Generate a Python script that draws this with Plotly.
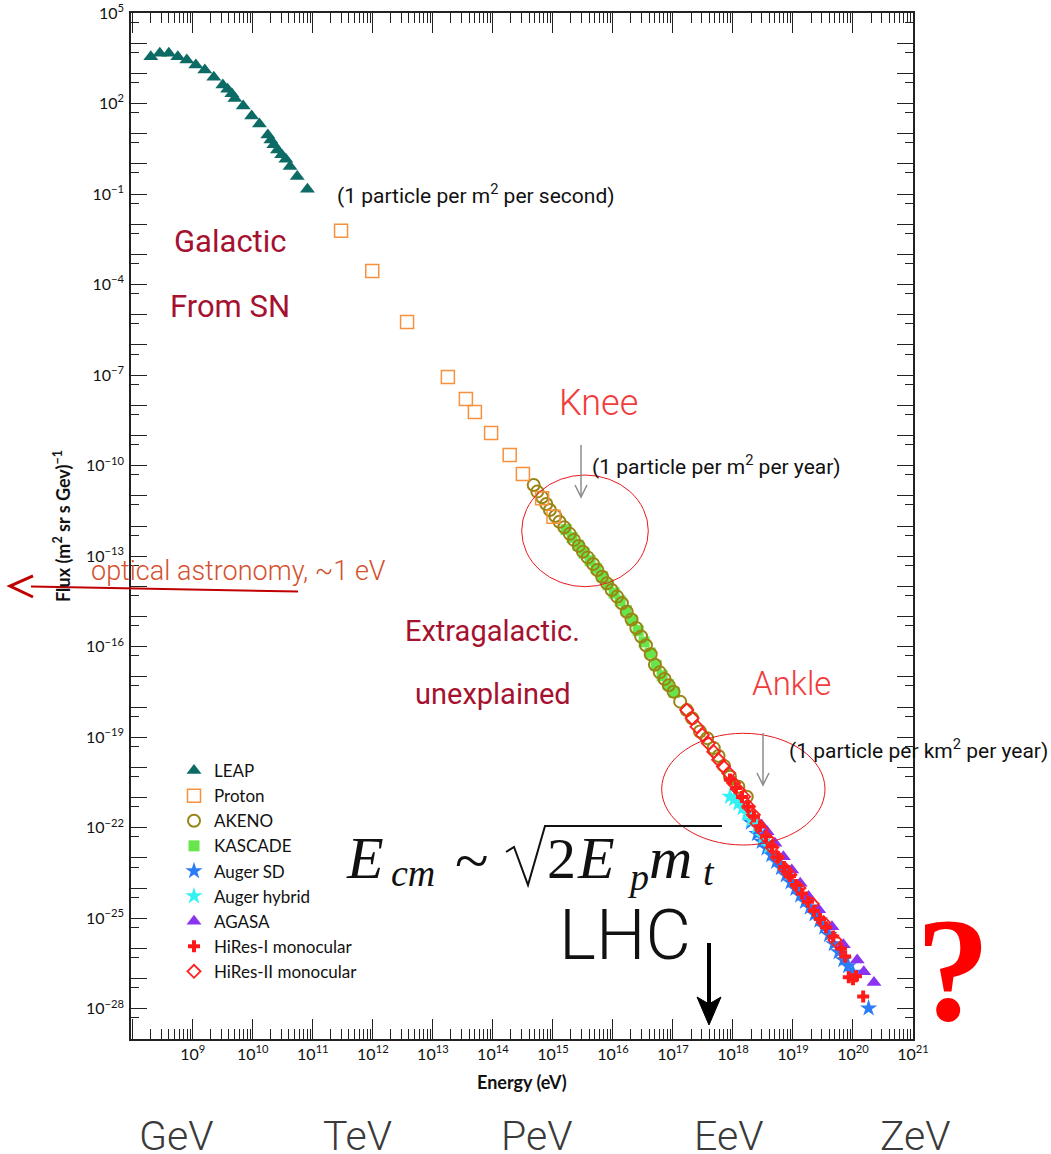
import plotly.graph_objects as go

# ---------------- data: log10(E / eV), log10(flux / (m^2 sr s GeV)^-1) ----------------
leap_log_e = [8.30, 8.45, 8.60, 8.75, 8.90, 9.05, 9.20, 9.35, 9.50, 9.58, 9.65, 9.70,
              9.84, 9.98, 10.11, 10.25, 10.30, 10.35, 10.41, 10.48, 10.55, 10.62, 10.74, 10.91]
leap_log_f = [3.55, 3.67, 3.67, 3.55, 3.44, 3.28, 3.11, 2.87, 2.61, 2.47, 2.32, 2.17,
              1.92, 1.59, 1.32, 0.96, 0.79, 0.63, 0.46, 0.30, 0.15, -0.09, -0.42, -0.84]

proton_log_e = [11.47, 11.99, 12.57, 13.25, 13.55, 13.70, 13.97, 14.28, 14.50, 14.82, 15.01]
proton_log_f = [-2.22, -3.55, -5.24, -7.06, -7.79, -8.22, -8.92, -9.65, -10.28, -11.08, -11.69]

akeno_log_e = [14.68, 14.74, 14.82, 14.89, 14.95, 15.04, 15.11, 15.19, 15.28, 15.35,
               15.43, 15.50, 15.58, 15.67, 15.74, 15.82, 15.90, 15.98, 16.07, 16.15,
               16.23, 16.31, 16.39, 16.47, 16.55, 16.63, 16.70, 16.78, 16.86, 16.93,
               17.01, 17.12, 17.23, 17.32, 17.45, 17.57, 17.68, 17.76, 17.85, 17.95,
               18.09, 18.23]
akeno_log_f = [-10.64, -10.86, -11.05, -11.27, -11.47, -11.67, -11.86, -12.04, -12.26, -12.46,
               -12.66, -12.85, -13.04, -13.26, -13.46, -13.68, -13.90, -14.12, -14.34, -14.56,
               -14.84, -15.10, -15.38, -15.66, -15.95, -16.25, -16.60, -16.85, -17.07, -17.28,
               -17.49, -17.82, -18.10, -18.37, -18.81, -19.03, -19.36, -19.62, -19.95, -20.31,
               -20.64, -20.97]

kascade_log_e = [15.22, 15.32, 15.42, 15.52, 15.62, 15.72, 15.82, 15.92, 16.02, 16.12,
                 16.22, 16.32, 16.42, 16.52, 16.62, 16.72, 16.82, 16.92, 17.02]
kascade_log_f = [-12.12, -12.38, -12.64, -12.90, -13.15, -13.40, -13.68, -13.95, -14.22, -14.48,
                 -14.80, -15.13, -15.47, -15.84, -16.21, -16.62, -16.96, -17.25, -17.52]

auger_sd_log_e = [18.30, 18.40, 18.48, 18.56, 18.64, 18.72, 18.80, 18.88, 18.96, 19.04, 19.12,
                  19.20, 19.28, 19.36, 19.44, 19.52, 19.60, 19.68, 19.76, 19.84, 19.92,
                  20.00, 20.26]
auger_sd_log_f = [-21.82, -22.20, -22.46, -22.68, -22.90, -23.12, -23.33, -23.57, -23.80, -24.02,
                  -24.24, -24.45, -24.64, -24.86, -25.07, -25.30, -25.55, -25.85, -26.12, -26.38,
                  -26.58, -26.80, -27.98]

auger_hyb_log_e = [17.95, 18.02, 18.09, 18.16, 18.23, 18.30, 18.40, 18.50, 18.60]
auger_hyb_log_f = [-20.97, -21.05, -21.19, -21.35, -21.52, -21.75, -21.96, -22.30, -22.62]

agasa_log_e = [18.48, 18.57, 18.70, 18.84, 18.98, 19.12, 19.26, 19.43, 19.65, 19.84,
               20.07, 20.18, 20.35]
agasa_log_f = [-21.92, -22.13, -22.51, -22.96, -23.40, -23.84, -24.28, -24.72, -25.28, -25.88,
               -26.38, -26.77, -27.13]

hires1_log_e = [17.95, 18.05, 18.15, 18.25, 18.35, 18.45, 18.55, 18.65, 18.75, 18.85, 18.95,
                19.05, 19.15, 19.25, 19.35, 19.45, 19.55, 19.67, 19.80, 19.87, 19.93, 20.00,
                20.05, 20.17]
hires1_log_f = [-20.40, -20.68, -20.98, -21.30, -21.62, -21.95, -22.28, -22.62, -22.98, -23.30,
                -23.60, -23.90, -24.18, -24.45, -24.75, -25.02, -25.30, -25.60, -26.00, -26.27,
                -26.95, -27.02, -26.92, -27.59]

hires2_log_e = [17.23, 17.32, 17.40, 17.49, 17.59, 17.68, 17.76, 17.84, 17.93, 18.01, 18.09,
                18.18, 18.26, 18.34, 18.40, 18.48, 18.57, 18.65, 18.74, 18.87, 18.95, 19.10,
                19.32, 19.51, 19.70]
hires2_log_f = [-18.10, -18.37, -18.65, -18.92, -19.20, -19.48, -19.75, -19.97, -20.19, -20.52,
                -20.75, -20.97, -21.30, -21.57, -21.85, -22.07, -22.35, -22.65, -22.98, -23.37,
                -23.56, -24.00, -24.52, -25.14, -25.72]

x_major_exp = list(range(8, 22))
y_major_exp = list(range(-29, 6))
unit_labels = ["GeV", "TeV", "PeV", "EeV", "ZeV"]

# ---------------- figure geometry (pixels) ----------------
W, H = 1051, 1154
L, R, T, B = 131, 913, 13, 1039


def px(x):
    return (x - L) / (R - L)


def py(y):
    return (B - y) / (B - T)


def path(points, close=False):
    s = "M " + " L ".join(f"{px(a):.5f},{py(b):.5f}" for a, b in points)
    return s + (" Z" if close else "")


def pw(vals):
    return [10 ** v for v in vals]


fig = go.Figure()

series = [
    # name, log E, log F, symbol, color, size, line width, legend rank
    ("KASCADE", kascade_log_e, kascade_log_f, "square", "#66e64a", 11, 0, 4),
    ("AKENO", akeno_log_e, akeno_log_f, "circle-open", "#9a8514", 12, 2, 3),
    ("LEAP", leap_log_e, leap_log_f, "triangle-up", "#0d6b66", 13, 0, 1),
    ("Proton", proton_log_e, proton_log_f, "square-open", "#f7913d", 13, 1.5, 2),
    ("Auger SD", auger_sd_log_e, auger_sd_log_f, "star", "#2a7cf7", 13, 0, 5),
    ("Auger hybrid", auger_hyb_log_e, auger_hyb_log_f, "star", "#33f2f2", 13, 0, 6),
    ("AGASA", agasa_log_e, agasa_log_f, "triangle-up", "#8a33f0", 13, 0, 7),
    ("HiRes-I monocular", hires1_log_e, hires1_log_f, "cross", "#ff1a1a", 10, 0, 8),
    ("HiRes-II monocular", hires2_log_e, hires2_log_f, "diamond-open", "#ff2020", 10, 1.8, 9),
]

for name, le, lf, sym, col, size, lw, rank in series:
    marker = dict(symbol=sym, color=col, size=size)
    if lw:
        marker["line"] = dict(color=col, width=lw)
    fig.add_trace(go.Scatter(x=pw(le), y=pw(lf), mode="markers", name=name,
                             marker=marker, legendrank=rank, cliponaxis=False))

sans = "Lato, Liberation Sans, sans-serif"
tick_font = dict(family=sans, size=16, color="#111")

x_ticktext = ["" if n == 8 else f"10<sup>{n}</sup>" for n in x_major_exp]
y_ticktext = [f"10<sup>{str(n).replace('-', '−')}</sup>" if (5 - n) % 3 == 0 else ""
              for n in y_major_exp]

fig.update_xaxes(
    type="log", range=[7.97, 21.0], showgrid=False, zeroline=False, automargin=False,
    showline=True, linecolor="#222", linewidth=1.5, mirror="allticks",
    ticks="inside", ticklen=20, tickwidth=1, tickcolor="#222",
    tickmode="array", tickvals=[10.0 ** n for n in x_major_exp], ticktext=x_ticktext,
    tickfont=tick_font,
    minor=dict(ticks="inside", ticklen=10, tickwidth=1, tickcolor="#222",
               tickmode="array",
               tickvals=[k * 10.0 ** n for n in range(7, 21) for k in range(2, 10)]),
)
fig.update_yaxes(
    type="log", range=[-29, 5], showgrid=False, zeroline=False, automargin=False,
    showline=True, linecolor="#222", linewidth=1.5, mirror="allticks",
    ticks="inside", ticklen=16, tickwidth=1, tickcolor="#222",
    tickmode="array", tickvals=[10.0 ** n for n in y_major_exp], ticktext=y_ticktext,
    tickfont=tick_font, ticklabelstandoff=2,
    minor=dict(ticks="inside", ticklen=8, tickwidth=1, tickcolor="#222",
               tickmode="array",
               tickvals=[0.5 * 10.0 ** n for n in range(-28, 6)]),
)

ann = []


def text(x, y, s, size, color, family="Liberation Sans, sans-serif", anchor="center",
         weight="normal", angle=0):
    ann.append(dict(x=px(x), y=py(y), xref="paper", yref="paper", text=s, showarrow=False,
                    xanchor=anchor, yanchor="middle", textangle=angle, borderpad=0,
                    font=dict(family=family, size=size, color=color, weight=weight)))


light = "Roboto, Liberation Sans, sans-serif"
dark_red = "#a5112f"

text(336, 194, "(1 particle per m<sup>2</sup> per second)", 21, "#111", light, "left")
text(230, 241, "Galactic", 31, dark_red, light)
text(230, 306, "From SN", 31, dark_red, light)
text(598, 403, "Knee", 36, "#f03c3c", light, weight=300)
text(591, 465, "(1 particle per m<sup>2</sup> per year)", 21, "#111", light, "left")
text(90, 571, "optical astronomy, ~1 eV", 27, "#d4502e", light, "left", weight=300)
text(492, 631, "Extragalactic.", 29, dark_red, light)
text(493, 694, "unexplained", 29, dark_red, light)
text(791, 684, "Ankle", 33, "#f03c3c", light, weight=300)
text(788, 749, "(1 particle per km<sup>2</sup> per year)", 21, "#111", light, "left")
text(625, 935, "LHC", 70, "#111", light, weight=300)
text(953, 970, "?", 148, "#ff0000", "Liberation Serif, serif", weight="bold")

# E_cm ~ sqrt(2 E_p m_t), set piece by piece
serif = "Liberation Serif, DejaVu Serif, serif"
text(345, 858, "<i>E</i>", 60, "#111", serif, "left")
text(390, 873, "<i>cm</i>", 38, "#111", serif, "left")
text(454, 860, "~", 62, "#111", serif, "left")
text(546, 858, "2", 58, "#111", serif, "left")
text(576, 858, "<i>E</i>", 60, "#111", serif, "left")
text(626, 877, "<i>p</i>", 38, "#111", serif, "left")
text(648, 858, "<i>m</i>", 60, "#111", serif, "left")
text(702, 872, "<i>t</i>", 38, "#111", serif, "left")

# axis titles
text(522, 1082, "Energy (eV)", 18, "#111", sans, weight="bold")
text(62, 526, "Flux (m<sup>2</sup> sr s Gev)<sup>−1</sup>", 18, "#111", sans,
     weight="bold", angle=-90)

# unit names under the energy axis
for lab, xc in zip(unit_labels, [176, 357, 537, 728, 915]):
    text(xc, 1136, lab, 41, "#3a3a3a", light, weight=300)

shapes = []
# knee and ankle ellipses
shapes.append(dict(type="circle", xref="paper", yref="paper", x0=px(521.7), x1=px(648.3),
                   y0=py(586.7), y1=py(475), line=dict(color="#e8191e", width=1)))
shapes.append(dict(type="circle", xref="paper", yref="paper", x0=px(661.7), x1=px(825),
                   y0=py(845), y1=py(733.3), line=dict(color="#e8191e", width=1)))

# grey pointer arrows
for xa, ya, yb in [(581, 445, 497), (763, 733, 785)]:
    shapes.append(dict(type="path", xref="paper", yref="paper",
                       path=path([(xa, ya), (xa, yb)]), line=dict(color="#8c8c8c", width=1.5)))
    shapes.append(dict(type="path", xref="paper", yref="paper",
                       path=path([(xa - 6, yb - 12), (xa, yb), (xa + 6, yb - 12)]),
                       line=dict(color="#8c8c8c", width=1.5)))

# optical-astronomy arrow pointing off the left edge
shapes.append(dict(type="path", xref="paper", yref="paper",
                   path=path([(298, 591.5), (31, 586.5)]), line=dict(color="#c00000", width=2)))
shapes.append(dict(type="path", xref="paper", yref="paper",
                   path=path([(33, 576), (10, 586), (33, 597)]),
                   line=dict(color="#c00000", width=3)))

# LHC arrow
shapes.append(dict(type="path", xref="paper", yref="paper",
                   path=path([(709, 943), (709, 1004)]), line=dict(color="#000", width=4)))
shapes.append(dict(type="path", xref="paper", yref="paper",
                   path=path([(709, 1025), (697, 997), (709, 1004), (721, 997)], close=True),
                   fillcolor="#000", line=dict(color="#000", width=1)))

# radical sign with its bar
shapes.append(dict(type="path", xref="paper", yref="paper",
                   path=path([(506, 852), (514, 847), (528, 885), (545, 826), (722, 826)]),
                   line=dict(color="#111", width=2)))

fig.update_layout(
    width=W, height=H, autosize=False,
    margin=dict(l=L, r=W - R, t=T, b=H - B, pad=0),
    paper_bgcolor="white", plot_bgcolor="white",
    showlegend=True,
    legend=dict(x=px(174), y=py(753), xanchor="left", yanchor="top",
                bgcolor="rgba(0,0,0,0)", borderwidth=0,
                font=dict(family=sans, size=17, color="#111"),
                tracegroupgap=0, itemwidth=30),
    annotations=ann, shapes=shapes,
)

fig.write_html("out.html")
